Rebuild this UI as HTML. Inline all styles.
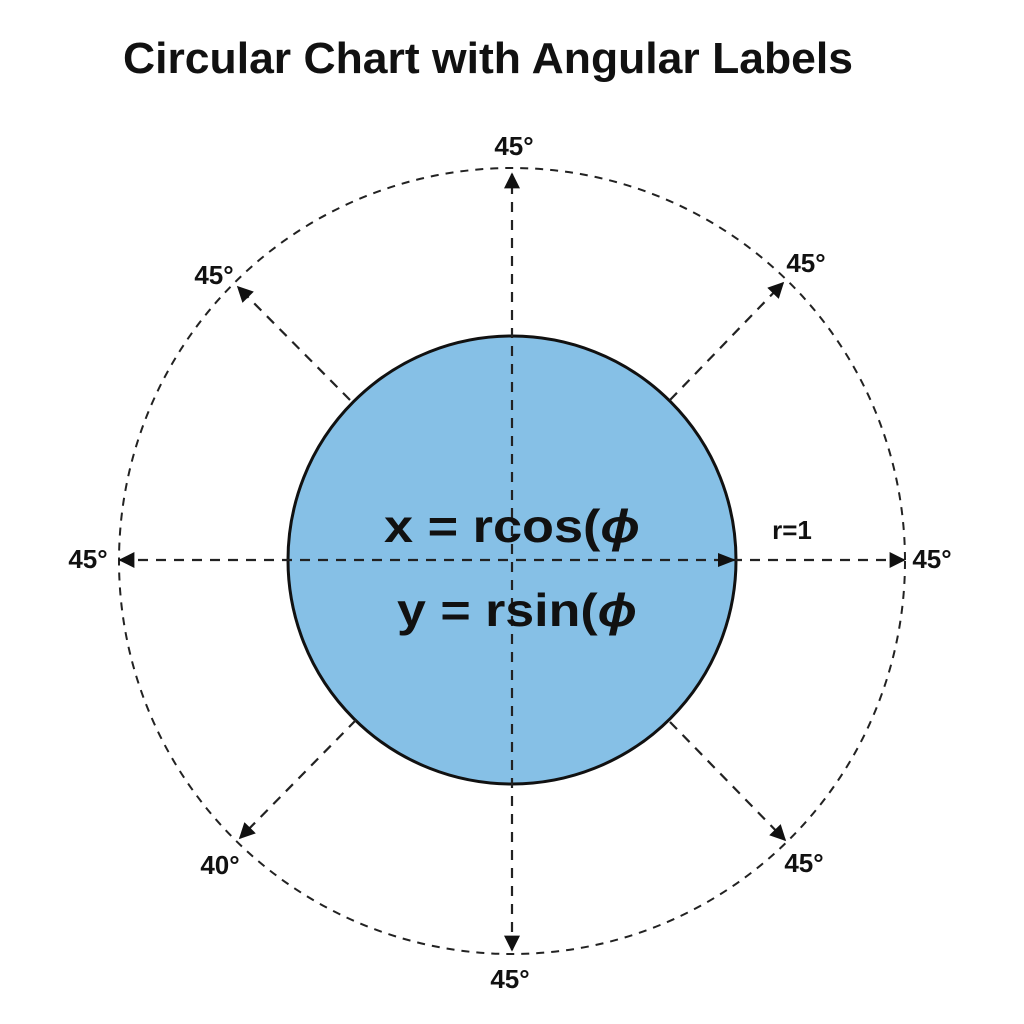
<!DOCTYPE html>
<html><head><meta charset="utf-8"><style>
html,body{margin:0;padding:0;background:#fff;}
svg{display:block;}
text{font-family:"Liberation Sans",sans-serif;font-weight:bold;fill:#111;}
</style></head><body>
<svg width="1024" height="1024" viewBox="0 0 1024 1024" xmlns="http://www.w3.org/2000/svg">
<defs>
<marker id="b" viewBox="0 0 10 10" refX="9" refY="5" markerWidth="18" markerHeight="16" orient="auto-start-reverse" markerUnits="userSpaceOnUse">
<path d="M0,0 L10,5 L0,10 z" fill="#111"/>
</marker>
</defs>
<text x="488" y="73" font-size="44" text-anchor="middle" textLength="730" lengthAdjust="spacingAndGlyphs">Circular Chart with Angular Labels</text>
<circle cx="512" cy="561" r="393" fill="none" stroke="#222" stroke-width="2" stroke-dasharray="8,7"/>
<circle cx="512" cy="560" r="224" fill="#86c0e6" stroke="#111" stroke-width="3"/>
<g stroke="#222" stroke-width="2.2" stroke-dasharray="10,8" fill="none">
<line x1="512" y1="950" x2="512" y2="174" marker-end="url(#b)" marker-start="url(#b)"/>
<line x1="120" y1="560" x2="904" y2="560" marker-start="url(#b)" marker-end="url(#b)"/>
<line x1="350" y1="400" x2="238" y2="287" marker-end="url(#b)"/>
<line x1="670" y1="400" x2="783" y2="283" marker-end="url(#b)"/>
<line x1="356" y1="720" x2="240" y2="838" marker-end="url(#b)"/>
<line x1="670" y1="722" x2="785" y2="840" marker-end="url(#b)"/>
</g>
<path d="M718,553 L736,560 L718,567 z" fill="#111"/>
<g font-size="26">
<text x="514" y="155" text-anchor="middle">45°</text>
<text x="214" y="284" text-anchor="middle">45°</text>
<text x="806" y="272" text-anchor="middle">45°</text>
<text x="88" y="568" text-anchor="middle">45°</text>
<text x="932" y="568" text-anchor="middle">45°</text>
<text x="220" y="874" text-anchor="middle">40°</text>
<text x="804" y="872" text-anchor="middle">45°</text>
<text x="510" y="988" text-anchor="middle">45°</text>
<text x="792" y="539" text-anchor="middle">r=1</text>
</g>
<text x="384" y="542" font-size="46" textLength="256" lengthAdjust="spacingAndGlyphs">x = rcos(<tspan font-style="italic">ϕ</tspan></text>
<text x="397" y="626" font-size="46" textLength="240" lengthAdjust="spacingAndGlyphs">y = rsin(<tspan font-style="italic">ϕ</tspan></text>
</svg>
</body></html>
